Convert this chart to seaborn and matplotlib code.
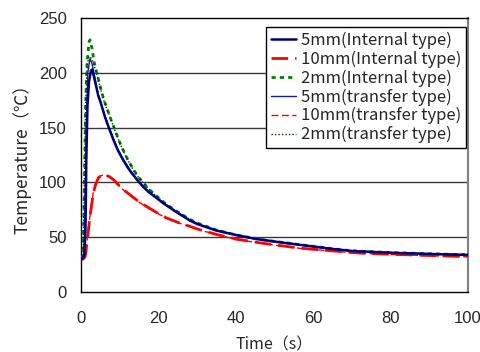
import matplotlib
matplotlib.use("Agg")
import matplotlib.pyplot as plt
import seaborn as sns

# ---- data ----
t_int5 = [0.1, 0.8, 1.1, 1.3, 1.6, 2.0, 2.5, 2.85, 3.5, 4.4, 5, 6.1, 7, 8.3, 9.5, 10.9, 12.5, 14.4, 16, 17.5, 19.5, 21.2, 25, 28.2, 30, 35, 40, 45, 50, 56.6, 60, 65, 70, 80, 90, 100]
T_int5 = [30, 33, 60, 120, 170, 192, 202, 203, 193, 179, 173, 160, 151, 139, 129, 120, 111, 102.5, 96, 91, 85.7, 81, 72, 65, 62, 56, 52, 48.5, 46, 43, 41.5, 39.3, 37.4, 35.8, 34.7, 33.8]

t_int10 = [0.1, 0.5, 0.96, 1.25, 1.55, 1.9, 2.25, 2.7, 3.1, 3.7, 4.4, 5.0, 5.7, 6.5, 7.4, 8.5, 9.7, 10.9, 12.5, 14.5, 16.9, 20, 22.1, 25, 28.2, 30, 35, 40, 45, 50, 56.6, 60, 65, 72, 80, 90, 100]
T_int10 = [30, 30, 32, 38, 47.6, 58, 69, 80, 90, 98, 104, 106, 107, 106.5, 105, 102, 97.5, 93.3, 89, 83.5, 78, 71.5, 67.5, 63.5, 59.8, 57.5, 52.5, 48.3, 45.5, 43, 40, 39, 37.5, 35.5, 34.4, 33.3, 32.3]

t_int2 = [0.1, 0.5, 0.8, 1.1, 1.5, 2.0, 2.25, 2.8, 3.3, 4, 5.3, 6, 7.4, 8.7, 10, 11.7, 13.5, 15, 16.9, 18.5, 20, 22, 25, 28, 30, 35, 40, 45, 50, 56.6, 60, 65, 70, 80, 90, 100]
T_int2 = [30, 40, 100, 170, 210, 228, 230, 222, 210, 200, 182, 174, 160, 148, 136, 123, 111.6, 104, 96.3, 90.5, 86, 80, 73, 66.5, 63, 56.5, 52.2, 48.7, 46.2, 43.2, 41.7, 39.5, 37.6, 36.0, 34.9, 34.0]

t_tr5 = [0.1, 0.7, 1.0, 1.3, 1.7, 2.25, 2.8, 3.5, 4.4, 5, 6.1, 7, 8.3, 9.5, 10.9, 12.5, 14.4, 16, 17.5, 19.5, 21.2, 25, 28.2, 30, 35, 40, 45, 50, 56.6, 60, 65, 70, 80, 90, 100]
T_tr5 = [30, 35, 80, 150, 200, 213, 208, 196, 180, 174, 161, 152, 140, 130, 121, 112, 103, 96.5, 91.5, 86, 81.3, 72.3, 65.3, 62.3, 56.3, 52.2, 48.7, 46.2, 43.2, 41.7, 39.5, 37.6, 36.0, 34.9, 34.0]

t_tr10 = [0.1, 0.5, 0.96, 1.25, 1.55, 1.9, 2.25, 2.7, 3.1, 3.7, 4.4, 5.0, 5.7, 6.5, 7.4, 8.5, 9.7, 10.9, 12.5, 14.5, 16.9, 20, 22.1, 25, 28.2, 30, 35, 40, 45, 50, 56.6, 60, 65, 72, 80, 90, 100]
T_tr10 = [30, 30, 32.5, 39, 48.5, 59, 70, 81, 90.5, 98.5, 104, 106, 106.8, 106.2, 104.6, 101.5, 97, 93, 88.6, 83, 77.6, 71.2, 67.2, 63.2, 59.5, 57.3, 52.3, 48.1, 45.3, 42.8, 39.8, 38.8, 37.3, 35.3, 34.2, 33.1, 32.1]

t_tr2 = [0.1, 0.5, 0.8, 1.1, 1.5, 1.9, 2.2, 2.8, 3.3, 4, 5.3, 6, 7.4, 8.7, 10, 11.7, 13.5, 15, 16.9, 18.5, 20, 22, 25, 28, 30, 35, 40, 45, 50, 56.6, 60, 65, 70, 80, 90, 100]
T_tr2 = [30, 38, 95, 165, 205, 214, 215, 212, 207, 199, 181, 173, 159.5, 147.5, 135.5, 122.5, 111, 103.5, 96, 90.2, 85.8, 79.8, 72.8, 66.3, 62.8, 56.4, 52.1, 48.6, 46.1, 43.1, 41.6, 39.4, 37.5, 35.9, 34.8, 33.9]

labels = ["5mm(Internal type)", "10mm(Internal type)", "2mm(Internal type)",
          "5mm(transfer type)", "10mm(transfer type)", "2mm(transfer type)"]

x_ticks = [0, 20, 40, 60, 80, 100]
y_ticks = [0, 50, 100, 150, 200, 250]

# ---- plot ----
sns.set_theme(style="white")
plt.rcParams['font.family'] = ['Liberation Sans', 'DejaVu Sans']

fig = plt.figure(figsize=(4.81, 3.52), dpi=100)
ax = fig.add_axes([0.169, 0.1705, 0.803, 0.7785])

for yv in [50, 100, 150, 200]:
    ax.axhline(yv, color='#3a3a3a', lw=1.0, zorder=0)

navy = '#00007f'
red = '#ff0000'
green = '#008000'

series = [
    (t_int10, T_int10, red, 2.0, (0, (6, 2.5)), labels[1]),
    (t_tr10, T_tr10, red, 1.0, (0, (5, 2.5)), labels[4]),
    (t_int2, T_int2, green, 2.0, (0, (1.5, 1.5)), labels[2]),
    (t_tr2, T_tr2, '#003300', 1.0, (0, (1, 1.5)), labels[5]),
    (t_tr5, T_tr5, '#1a1aa0', 1.0, '-', labels[3]),
    (t_int5, T_int5, navy, 1.8, '-', labels[0]),
]
for tx, ty, c, lw, ls, lab in series:
    sns.lineplot(x=tx, y=ty, ax=ax, color=c, lw=lw, linestyle=ls, label=lab,
                 zorder=3, sort=False)

h, l = ax.get_legend_handles_labels()
hmap = dict(zip(l, h))
leg = ax.legend([hmap[k] for k in labels], labels, loc='upper right',
                bbox_to_anchor=(0.996, 0.968), frameon=True, fancybox=False,
                edgecolor='black', framealpha=1, borderpad=0.3, labelspacing=0.1,
                handlelength=1.5, handletextpad=0.3, borderaxespad=0.0,
                prop={'family': ['Noto Sans CJK JP', 'DejaVu Sans'], 'size': 12})
leg.get_frame().set_linewidth(1.0)

ax.set_xlim(0, 100)
ax.set_ylim(0, 250)
ax.set_xticks(x_ticks)
ax.set_yticks(y_ticks)
ax.set_xticklabels([str(v) for v in x_ticks], fontsize=12)
ax.set_yticklabels([str(v) for v in y_ticks], fontsize=12)
ax.tick_params(axis='x', direction='in', length=4, width=1, color='black', pad=14)
ax.tick_params(axis='y', length=0, pad=10.5)
for s in ax.spines.values():
    s.set_color('black')
    s.set_linewidth(1.0)
ax.spines['right'].set_color('#808080')
ax.spines['right'].set_linewidth(1.5)

ax.set_xlabel('Time（s）', fontsize=11.5, family=['Noto Sans CJK JP', 'DejaVu Sans'], labelpad=7)
ax.set_ylabel('Temperature（℃）', fontsize=12.5, family=['Noto Sans CJK JP', 'DejaVu Sans'], labelpad=5)

fig.savefig('out.png', dpi=100)
